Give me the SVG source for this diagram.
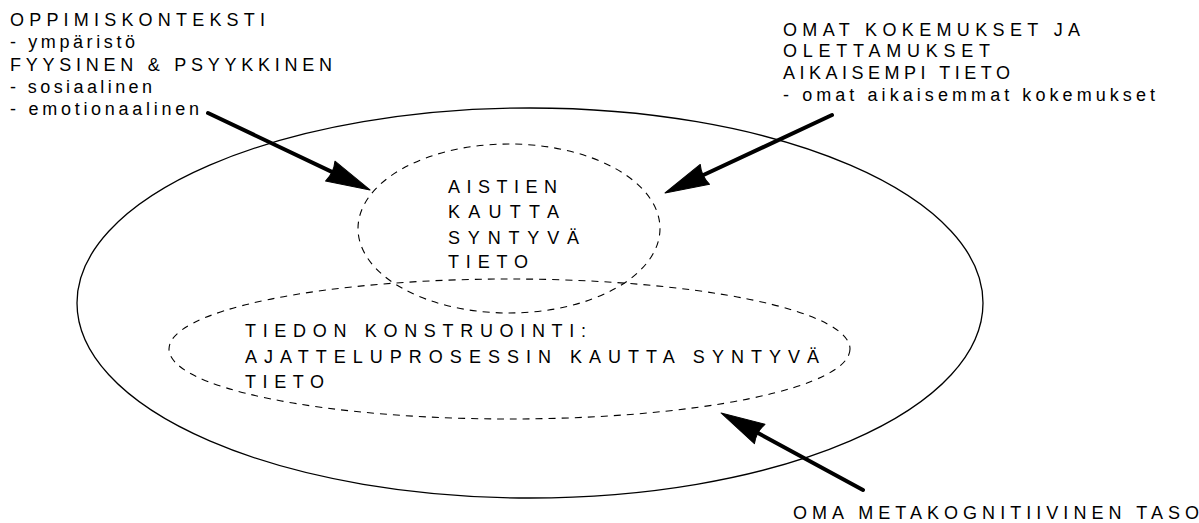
<svg xmlns="http://www.w3.org/2000/svg" width="1199" height="523" viewBox="0 0 1199 523">
<style>
text{font-family:"Liberation Sans",Arial,sans-serif;font-size:18px;fill:#000}
.outer{fill:none;stroke:#000;stroke-width:1.3}
.dash{fill:none;stroke:#000;stroke-width:1.1;stroke-dasharray:7,6}
.arrow{stroke:#000;stroke-width:4;stroke-linecap:round;fill:none;marker-end:url(#head)}
</style>
<defs>
<marker id="head" markerUnits="userSpaceOnUse" markerWidth="46" markerHeight="24" refX="14" refY="11" orient="auto" overflow="visible">
<path d="M0,0 L44,11 L0,22 Q4,11 0,0 z" fill="#000" stroke="#000" stroke-width="1" stroke-linejoin="round"/>
</marker>
</defs>
<rect width="1199" height="523" fill="#fff"/>
<g id="outer-ellipse"><ellipse class="outer" cx="530" cy="303" rx="453" ry="195"/></g>
<g id="aistien">
<ellipse class="dash" cx="509" cy="228.5" rx="151" ry="84.5"/>
<text x="448" y="193" textLength="109" lengthAdjust="spacing">AISTIEN</text>
<text x="448" y="218" textLength="111" lengthAdjust="spacing">KAUTTA</text>
<text x="448" y="243.5" textLength="131" lengthAdjust="spacing">SYNTYVÄ</text>
<text x="448" y="268" textLength="80" lengthAdjust="spacing">TIETO</text>
</g>
<g id="konstruointi">
<ellipse class="dash" cx="509.5" cy="349" rx="340.5" ry="70"/>
<text x="245" y="337" textLength="341" lengthAdjust="spacing">TIEDON KONSTRUOINTI:</text>
<text x="245" y="363" textLength="574" lengthAdjust="spacing">AJATTELUPROSESSIN KAUTTA SYNTYVÄ</text>
<text x="245" y="388" textLength="79" lengthAdjust="spacing">TIETO</text>
</g>
<g id="oppimiskonteksti">
<text x="10" y="26" textLength="255" lengthAdjust="spacing">OPPIMISKONTEKSTI</text>
<text x="10" y="48.3" textLength="125" lengthAdjust="spacing">- ympäristö</text>
<text x="10" y="70.5" textLength="322" lengthAdjust="spacing">FYYSINEN &amp; PSYYKKINEN</text>
<text x="10" y="92.7" textLength="142" lengthAdjust="spacing">- sosiaalinen</text>
<text x="10" y="115" textLength="189" lengthAdjust="spacing">- emotionaalinen</text>
</g>
<g id="kokemukset">
<text x="783" y="36" textLength="297" lengthAdjust="spacing">OMAT KOKEMUKSET JA</text>
<text x="783" y="57" textLength="207" lengthAdjust="spacing">OLETTAMUKSET</text>
<text x="783" y="79" textLength="227" lengthAdjust="spacing">AIKAISEMPI TIETO</text>
<text x="783" y="101" textLength="372" lengthAdjust="spacing">- omat aikaisemmat kokemukset</text>
</g>
<g id="metakognitiivinen">
<text x="793" y="519" textLength="406" lengthAdjust="spacing">OMA METAKOGNITIIVINEN TASO</text>
</g>
<g id="connectors">
<line class="arrow" x1="208" y1="113" x2="342.9" y2="177.1"/>
<line class="arrow" x1="832" y1="115" x2="692.2" y2="180.3"/>
<line class="arrow" x1="863" y1="490" x2="747.4" y2="427.3"/>
</g>
</svg>
